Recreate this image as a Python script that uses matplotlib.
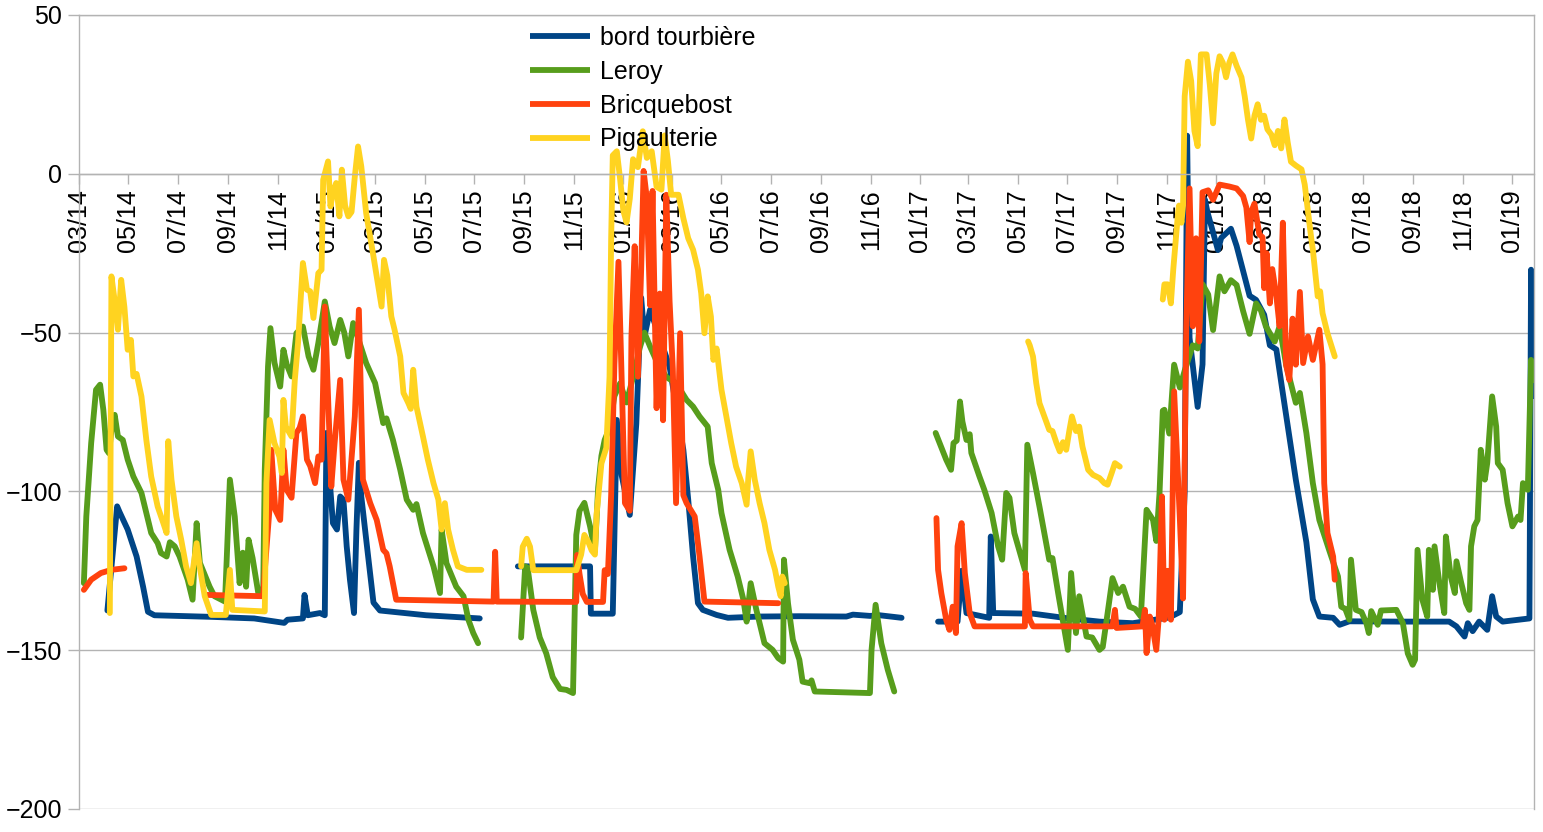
import numpy as np
import matplotlib
matplotlib.use("Agg")
import matplotlib.pyplot as plt
import matplotlib.dates as mdates

plt.rcParams['font.family'] = ['Liberation Sans', 'DejaVu Sans']

START = np.datetime64('2014-03-01')
series_names = ['bord tourbière', 'Leroy', 'Bricquebost', 'Pigaulterie']
series_colors = ['#004586', '#579d1c', '#ff420e', '#ffd320']

# (days since 2014-03-01, value); None = gap in the record
bord_tourbiere = [
    (35, -137.5), (47, -104.7), (50, -106.5), (60, -112), (71, -120.5), (79, -130), (85, -137.9),
    (93, -139), (163, -139.5), (216, -140), (253, -141.4), (257, -140.4), (276, -140), (278, -132.6),
    (282, -139), (297, -138.3), (303, -139), (305, -81.6), (309, -96.3), (313, -110), (318, -112),
    (322, -101.6), (326, -102.6), (330, -117.3), (334, -127.8), (339, -138.3), (342, -112), (345, -91),
    (348, -101.6), (355, -117.3), (363, -135), (371, -137.5), (428, -139), (494, -140),
    (510, None),
    (541, -123.6), (630, -123.6), (631, -138.5), (658, -138.5), (663, -77.5), (669, -95), (679, -107.4),
    (687, -78.7), (693, -39), (697, -51.3), (704, -42.8), (728, -60.7), (745, -86.9), (751, -102.6),
    (757, -120.5), (763, -135.2), (769, -137.3), (786, -138.9), (800, -139.8), (839, -139.4),
    (888, -139.3), (946, -139.4), (954, -138.8), (975, -139.2), (987, -139), (1014, -139.8),
    (1035, None),
    (1059, -141), (1073, -141), (1083, -141), (1088, -125), (1094, -138.3), (1122, -139.8),
    (1124, -114.2), (1127, -138.3), (1176, -138.5), (1217, -139.9), (1258, -141), (1299, -141.5),
    (1344, -139.7), (1357, -138), (1363, -100), (1366, 12), (1369, -51.6), (1379, -73.4), (1385, -60),
    (1388, -8.2), (1391, -12), (1404, -24), (1408, -20.2), (1420, -17.3), (1427, -22.7), (1443, -38.4),
    (1451, -39.7), (1461, -44.4), (1468, -54), (1476, -55.3), (1483, -67.4), (1500, -96.3),
    (1513, -116), (1521, -134), (1529, -139.4), (1546, -139.8), (1554, -142), (1566, -140.9),
    (1628, -141), (1689, -141), (1698, -142.5), (1708, -145.7), (1712, -141.5), (1718, -144),
    (1726, -141), (1736, -143.6), (1742, -133), (1747, -139.4), (1755, -141), (1788, -140),
    (1790, -30.2), (1793, -70),
]

leroy = [
    (6, -128.9), (9, -107.9), (15, -84.8), (21, -68), (26, -66.4), (30, -74.3), (34, -86.9), (37, -88),
    (41, -78), (44, -75.9), (48, -82.7), (54, -83.8), (60, -90), (67, -95.3), (77, -100.5),
    (83, -106.8), (89, -113.1), (97, -116.3), (101, -119.4), (108, -120.5), (112, -116),
    (118, -117.3), (124, -120.5), (134, -127.8), (140, -134.1), (145, -110), (149, -122.5),
    (161, -130), (167, -133), (180, -134.7), (186, -96.3), (192, -107.9), (198, -128.9),
    (202, -119.3), (206, -130), (209, -115.2), (214, -121), (221, -132), (227, -132), (229, -93.2),
    (233, -60.7), (236, -48.6), (241, -59.5), (248, -67), (252, -55.4), (256, -60), (262, -63.8),
    (268, -50.2), (276, -48.1), (283, -57.5), (289, -61.7), (295, -53.3), (303, -40.2), (309, -48.1),
    (315, -53.3), (322, -46), (327, -50), (332, -57.5), (338, -47), (346, -53.3), (354, -59.6),
    (365, -65.9), (375, -78.5), (379, -77), (387, -83.8), (396, -93.2), (404, -102.6), (412, -105.8),
    (416, -104), (424, -113.1), (437, -123.6), (445, -132), (447, -112), (453, -122.6), (465, -130),
    (474, -133), (480, -140.4), (486, -144.6), (492, -147.8),
    (520, None),
    (545, -146), (550, -123.6), (553, -124), (560, -137.3), (568, -146), (576, -151), (584, -158.5),
    (593, -162.2), (601, -162.5), (609, -163.5), (613, -113.7), (617, -106.1), (623, -103.6),
    (630, -111), (636, -118.7), (640, -98.7), (644, -88.8), (648, -83.8), (654, -80), (660, -70),
    (667, -66), (675, -72), (685, -62), (691, -55), (697, -50), (704, -54.4), (712, -59), (724, -64),
    (736, -65.9), (749, -71.2), (757, -73.3), (765, -76.4), (775, -79.6), (780, -91.1), (788, -99.5),
    (792, -106.8), (802, -118.4), (812, -126.8), (819, -134.1), (823, -141), (828, -128.9),
    (835, -137.3), (845, -147.8), (855, -149.9), (862, -152.5), (868, -153.6), (869, -121.5),
    (874, -135.2), (880, -146.7), (888, -153), (892, -159.9), (901, -160.4), (903, -159.5),
    (907, -163), (975, -163.5), (977, -149.9), (982, -135.7), (989, -147.8), (997, -156.2),
    (1005, -163),
    (1030, None),
    (1056, -81.6), (1061, -84.8), (1069, -90), (1075, -93.2), (1078, -84.8), (1082, -84),
    (1086, -71.7), (1089, -78), (1094, -83.8), (1098, -82), (1100, -87.9), (1110, -95.3),
    (1116, -99.5), (1125, -106.8), (1133, -117.3), (1138, -121.5), (1143, -100.5), (1147, -102),
    (1153, -113.1), (1159, -118.4), (1166, -124.7), (1169, -85.3), (1176, -94.2), (1184, -104.8),
    (1196, -121.5), (1200, -121), (1207, -132), (1219, -149.9), (1223, -125.7), (1229, -144.6),
    (1233, -133), (1242, -145.7), (1249, -146), (1258, -149.9), (1262, -149), (1268, -138.3),
    (1274, -127.3), (1281, -132), (1287, -130), (1295, -136.3), (1302, -137), (1309, -139.4),
    (1316, -105.8), (1324, -109), (1328, -115.6), (1332, -100.5), (1336, -74.6), (1338, -74.3),
    (1344, -81.8), (1350, -60.1), (1357, -67.3), (1363, -62), (1373, -54), (1379, -55),
    (1385, -34.8), (1392, -38), (1398, -49.2), (1406, -32.3), (1412, -37), (1420, -33.5),
    (1427, -35), (1435, -43.2), (1443, -50.4), (1451, -40.8), (1457, -43), (1463, -48),
    (1474, -52.8), (1480, -48), (1488, -60.1), (1500, -72.1), (1505, -69), (1513, -81.6),
    (1521, -97.4), (1529, -109), (1541, -118.4), (1552, -126.8), (1556, -136.3), (1561, -137),
    (1566, -140.4), (1568, -121.5), (1574, -137.3), (1581, -138), (1587, -141.5), (1590, -144.6),
    (1593, -137.7), (1601, -142), (1605, -137.5), (1624, -137.3), (1632, -141.5), (1638, -151),
    (1644, -154.6), (1647, -153), (1650, -118.4), (1656, -134.1), (1662, -139.4), (1664, -118.4),
    (1669, -131), (1671, -117.3), (1677, -128.9), (1683, -138.3), (1685, -114.2), (1691, -126.8),
    (1696, -132), (1698, -122), (1704, -128.9), (1710, -135.2), (1714, -137.3), (1716, -117.3),
    (1720, -111), (1724, -109), (1728, -86.9), (1733, -96.3), (1736, -91), (1742, -70.1),
    (1747, -79.6), (1749, -91.1), (1755, -93.2), (1761, -103.7), (1767, -111), (1774, -107.9),
    (1777, -109), (1780, -97.4), (1786, -99.5), (1790, -58.6), (1793, -64.9),
]

bricquebost = [
    (6, -131), (15, -127.8), (27, -125.7), (40, -124.7), (56, -124.2),
    (100, None),
    (158, -132.6), (227, -133), (229, -125), (235, -105), (237, -86.9), (242, -105.8), (248, -109),
    (252, -86.9), (256, -99.5), (262, -102), (268, -81.6), (272, -80), (276, -76.4), (281, -90),
    (285, -92), (291, -97.4), (295, -89), (299, -90), (303, -41.8), (307, -70.1), (311, -98.5),
    (315, -85), (322, -64.9), (326, -96.3), (332, -102.6), (340, -76.4), (345, -42.8), (350, -96.3),
    (359, -103.7), (367, -109), (375, -118.4), (379, -119.5), (383, -123.6), (391, -134.1),
    (511, -134.7), (513, -119), (515, -134.7), (613, -134.8), (614, -120), (617, -126),
    (621, -132.3), (626, -134.8), (646, -134.8), (648, -124.8), (652, -126), (656, -101.2),
    (660, -60), (665, -27.7), (669, -65), (673, -103.7), (679, -106.1), (681, -51.3), (685, -22.8),
    (689, -63.9), (693, -30), (696, 0.9), (700, -7.8), (704, -41.4), (707, -5.4), (712, -73.8),
    (716, -37.7), (720, -77.6), (724, -6.6), (728, -40), (732, -61.4), (736, -103.7), (741, -50.2),
    (745, -101.2), (749, -103.7), (759, -107.9), (765, -120.5), (771, -134.7), (862, -135.2),
    (950, None),
    (1057, -108.4), (1059, -124.7), (1063, -132), (1069, -140.4), (1073, -143.6), (1077, -136.3),
    (1081, -144.6), (1083, -117.3), (1088, -110), (1092, -125.7), (1098, -138.3), (1104, -142.5),
    (1166, -142.5), (1167, -125.7), (1172, -140.4), (1176, -142.5), (1274, -142.5), (1277, -137.3),
    (1279, -143), (1311, -142.5), (1314, -137.3), (1316, -150.9), (1320, -139.4), (1323, -142),
    (1328, -149.9), (1331, -140), (1335, -101.6), (1338, -140.4), (1342, -125), (1346, -140.4),
    (1350, -68.5), (1357, -108.3), (1361, -133.7), (1365, -48), (1369, -4.6), (1373, -48),
    (1377, -20.3), (1381, -52.8), (1385, -5.8), (1392, -5.2), (1398, -8.2), (1406, -3.4),
    (1418, -4), (1427, -4.6), (1435, -7), (1439, -10.6), (1443, -21.5), (1445, -12), (1449, -9.4),
    (1455, -19.1), (1459, -20), (1461, -36), (1464, -25), (1468, -40.8), (1471, -30), (1476, -38.4),
    (1480, -48), (1484, -15.4), (1488, -60.1), (1492, -64.9), (1496, -45.6), (1500, -60.1),
    (1505, -37.2), (1509, -59.6), (1515, -51.2), (1521, -58.6), (1529, -49.1), (1533, -60),
    (1535, -97.4), (1539, -113.1), (1546, -120.5), (1548, -127.8),
]

pigaulterie = [
    (38, -138.3), (40, -32.3), (44, -40), (48, -49.1), (52, -33.4), (56, -42), (60, -55.4),
    (64, -52.3), (67, -63.8), (71, -63), (77, -70.1), (83, -83.8), (89, -95.3), (97, -104.8),
    (104, -110), (108, -113.1), (110, -84.2), (114, -96.3), (120, -107.9), (126, -115.2),
    (132, -123.6), (138, -128.9), (145, -116.3), (149, -124), (155, -133), (163, -138.9),
    (181, -138.9), (186, -124.7), (189, -137.3), (229, -137.8), (231, -97.4), (235, -77.5),
    (241, -84.8), (247, -89), (250, -94.2), (252, -71.2), (255, -79.6), (262, -82.7), (266, -65),
    (270, -53.3), (276, -28.1), (281, -36.5), (285, -37), (289, -45.4), (295, -31.3), (299, -30.2),
    (301, -1.9), (307, 3.9), (310, -10.3), (313, -6), (317, -2.9), (321, -13.4), (324, 1.3),
    (328, -10), (332, -13.4), (336, -12), (340, -0.9), (344, 8.6), (348, 2.3), (354, -12.4),
    (363, -26), (369, -35.5), (373, -41.8), (376, -27.1), (380, -32), (385, -44.9), (389, -49.1),
    (396, -57.5), (400, -69), (406, -72.2), (409, -74), (412, -61.7), (416, -73.3), (424, -82.7),
    (430, -90), (437, -97.4), (443, -102.6), (447, -112), (451, -103.7), (455, -112), (461, -118.4),
    (467, -123.6), (478, -124.7), (496, -124.7),
    (520, None),
    (545, -123.6), (547, -117.4), (552, -114.9), (556, -117.4), (560, -124.8), (613, -124.8),
    (619, -119.9), (623, -113.7), (628, -116), (632, -118.6), (636, -119.9), (638, -107.4),
    (644, -91.2), (650, -86.3), (654, -63.9), (656, -20.3), (658, 5.8), (663, 7.1), (667, -1.6),
    (671, -11.6), (675, -15.3), (679, -7.8), (683, 4.6), (689, 2.1), (695, 13.4), (700, 5),
    (706, 7.1), (712, -4.1), (718, -5), (722, 12.1), (726, 4), (730, -6.6), (739, -6.6),
    (745, -14), (751, -20.3), (757, -23.9), (763, -30.2), (767, -37.6), (771, -50.2), (775, -38.6),
    (779, -45), (782, -58.6), (786, -55), (790, -63.8), (792, -68), (798, -76.4), (804, -84.8),
    (810, -92.2), (817, -97.4), (823, -104.2), (825, -96), (828, -87.4), (833, -96.3),
    (839, -103.7), (845, -110), (851, -118.4), (858, -124.7), (862, -130), (865, -133),
    (867, -126.8), (870, -128.9),
    (1000, None),
    (1170, -52.8), (1172, -54), (1176, -57.5), (1180, -65.9), (1184, -72.2), (1190, -76.4),
    (1196, -80.6), (1200, -81), (1205, -84.8), (1209, -87.4), (1213, -84.5), (1217, -86.9),
    (1221, -80.6), (1224, -76.4), (1229, -81), (1233, -79.6), (1237, -85.9), (1244, -93.2),
    (1250, -94.8), (1258, -95.8), (1264, -97.4), (1268, -97.9), (1273, -94.2), (1277, -91.1),
    (1283, -92.2),
    (1310, None),
    (1336, -39.6), (1338, -34.8), (1342, -34.8), (1346, -40.8), (1349, -29.9), (1355, -11.8),
    (1356, -10), (1359, -15.4), (1361, -10), (1363, 24.4), (1367, 35.3), (1371, 29.2), (1375, 13.5),
    (1379, 8.7), (1383, 37.6), (1390, 37.6), (1394, 28), (1398, 15.9), (1402, 31.6), (1406, 37),
    (1410, 35), (1414, 30.4), (1418, 35), (1422, 37.6), (1427, 34), (1433, 30.4), (1437, 24.4),
    (1441, 17.1), (1445, 11.1), (1449, 18.3), (1453, 21.9), (1457, 17), (1461, 18.3), (1465, 14),
    (1470, 12.3), (1474, 9), (1478, 13.5), (1482, 8), (1486, 17.1), (1490, 9.9), (1494, 3.8),
    (1500, 2.6), (1507, 1.4), (1511, -3.4), (1515, -11.8), (1519, -20.3), (1521, -23.9),
    (1527, -38.6), (1530, -37), (1533, -43.9), (1539, -50.2), (1548, -57.5),
]

x_end_day = 1793
y_ticks = [50, 0, -50, -100, -150, -200]

W, H = 1543, 832
fig = plt.figure(figsize=(W / 100, H / 100), dpi=100)
ax = fig.add_axes([79 / W, (H - 809) / H, (1533.5 - 79) / W, (809 - 15) / H])

GRID = '#b3b3b3'
lw = 4.2
for data, name, col in zip([bord_tourbiere, leroy, bricquebost, pigaulterie], series_names, series_colors):
    days = np.array([d for d, v in data])
    vals = np.array([np.nan if v is None else v for d, v in data], dtype=float)
    x = START + days.astype('timedelta64[D]')
    ax.plot(x, vals, color=col, lw=lw, label=name, solid_joinstyle='round', solid_capstyle='round')

ax.set_xlim(START, START + np.timedelta64(x_end_day, 'D'))
ax.set_ylim(-200, 50)
ax.set_yticks(y_ticks)
ax.yaxis.grid(True, color=GRID, lw=1.0)
ax.set_axisbelow(True)

ax.xaxis.set_major_locator(mdates.MonthLocator(bymonth=[1, 3, 5, 7, 9, 11]))
ax.xaxis.set_major_formatter(mdates.DateFormatter('%m/%y'))
ax.spines['bottom'].set_position(('data', 0))
for s in ['left', 'right', 'top', 'bottom']:
    ax.spines[s].set_color(GRID)
    ax.spines[s].set_linewidth(1.0)
ax.tick_params(axis='x', direction='out', length=7, width=1, color=GRID, pad=4,
               labelsize=18, labelrotation=90)
ax.tick_params(axis='y', direction='out', length=8, width=1, color=GRID, pad=4, labelsize=18)
for lab in ax.get_xticklabels():
    lab.set_verticalalignment('top')

leg = ax.legend(loc='upper left', bbox_to_anchor=(530 / W, (H - 26) / H),
                bbox_transform=fig.transFigure, frameon=False, fontsize=18,
                handlelength=2.4, handletextpad=0.38, labelspacing=0.39, borderpad=0,
                borderaxespad=0)
for h in leg.get_lines():
    h.set_linewidth(4.2)
    h.set_solid_capstyle('butt')

fig.savefig('out.png', dpi=100)
